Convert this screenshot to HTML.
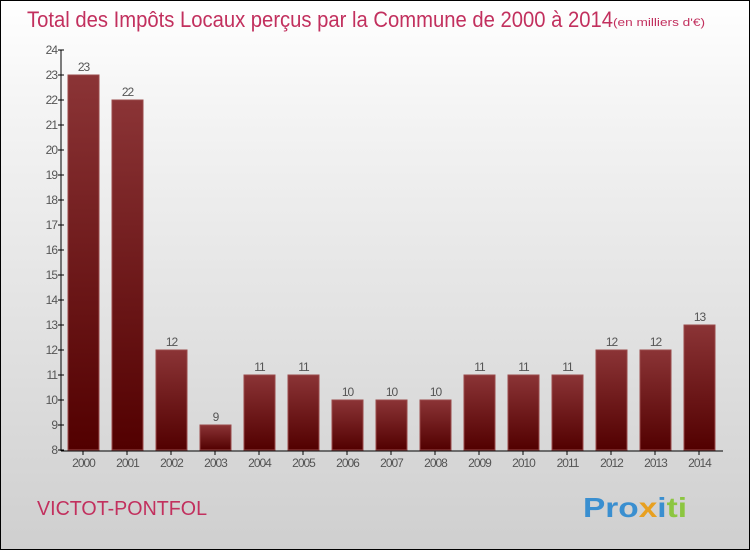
<!DOCTYPE html>
<html><head><meta charset="utf-8"><style>
body{margin:0;width:750px;height:550px;overflow:hidden;font-family:"Liberation Sans",sans-serif;}
#wrap{position:absolute;left:0;top:0;width:748px;height:548px;border:1px solid #000;background:linear-gradient(#ffffff,#f4f4f4 20%,#cfcfcf);}
</style></head><body>
<div id="wrap">
<svg id="c" width="748" height="548">
<defs><linearGradient id="g" x1="0" y1="0" x2="0" y2="1"><stop offset="0" stop-color="#8b3436"/><stop offset="1" stop-color="#520000"/></linearGradient></defs>
<text x="26" y="26" font-size="22" fill="#c2305e" textLength="586" lengthAdjust="spacingAndGlyphs">Total des Impôts Locaux perçus par la Commune de 2000 à 2014</text>
<text x="612" y="25" font-size="11" fill="#c2305e" textLength="92" lengthAdjust="spacingAndGlyphs">(en milliers d'€)</text>
<text x="36" y="514" font-size="20" fill="#c2305e" textLength="170" lengthAdjust="spacingAndGlyphs">VICTOT-PONTFOL</text>
<text x="582" y="516" font-size="28" font-weight="bold" textLength="104" lengthAdjust="spacingAndGlyphs"><tspan fill="#3a8fd0">Pro</tspan><tspan fill="#e8a020">x</tspan><tspan fill="#3a8fd0">i</tspan><tspan fill="#8cc640">ti</tspan></text>
<g id="plot"></g>
</svg></div>
<script>
const years=["2000","2001","2002","2003","2004","2005","2006","2007","2008","2009","2010","2011","2012","2013","2014"];
const values=[23,22,12,9,11,11,10,10,10,11,11,11,12,12,13];
const ticks=[8,9,10,11,12,13,14,15,16,17,18,19,20,21,22,23,24];
const NS="http://www.w3.org/2000/svg",g=document.getElementById('plot');
const y=v=>449-(v-8)*(400/16);
const x=i=>82+i*44;
function mk(t,a,txt){const e=document.createElementNS(NS,t);for(const k in a)e.setAttribute(k,a[k]);if(txt!=null)e.textContent=txt;g.appendChild(e);return e;}
let ax=mk('line',{x1:60,y1:49,x2:60,y2:450,stroke:'#000','stroke-width':1});

let bx=mk('line',{x1:60,y1:450,x2:722,y2:450,stroke:'#000','stroke-width':1});

ticks.forEach(t=>{
 let l=mk('line',{x1:57,x2:63,y1:y(t),y2:y(t),stroke:'#000'});
 
 let tx=mk('text',{x:56,y:y(t)+4,'text-anchor':'end','font-size':12,fill:'#555','letter-spacing':'-1'},t);
 
});
years.forEach((yr,i)=>{
 let r=mk('rect',{x:x(i)-15,y:y(values[i]),width:31,height:449-y(values[i]),fill:'url(#g)',stroke:'#9a4a4a','stroke-width':1});
 
 let v=mk('text',{x:x(i)+0.5,y:y(values[i])-4,'text-anchor':'middle','font-size':12,fill:'#555','letter-spacing':'-1'},values[i]);
 
 let tk=mk('line',{x1:x(i),x2:x(i),y1:450,y2:454,stroke:'#000'});
 
 let xl=mk('text',{x:x(i)+0.5,y:466,'text-anchor':'middle','font-size':12,fill:'#555','letter-spacing':'-1'},yr);
 
});
</script>
</body></html>
